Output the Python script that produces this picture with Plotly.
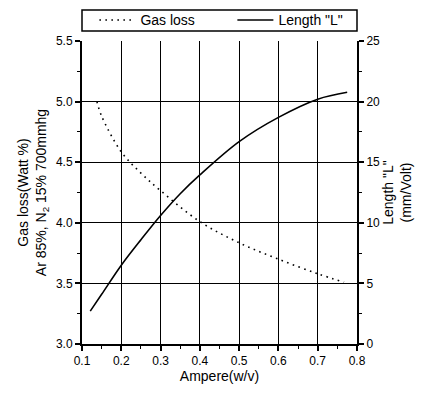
import plotly.graph_objects as go

# Data
gas_x = [0.138, 0.15, 0.2, 0.25, 0.3, 0.4, 0.5, 0.6, 0.7, 0.767]
gas_y = [5.0, 4.88, 4.585, 4.41, 4.265, 4.01, 3.835, 3.70, 3.58, 3.51]

len_x = [0.121, 0.15, 0.2, 0.25, 0.3, 0.35, 0.4, 0.5, 0.6, 0.7, 0.775]
len_y = [2.71, 4.1, 6.5, 8.6, 10.6, 12.4, 13.95, 16.7, 18.7, 20.2, 20.77]

x_ticks = [0.1, 0.2, 0.3, 0.4, 0.5, 0.6, 0.7, 0.8]
y1_ticks = [3.0, 3.5, 4.0, 4.5, 5.0, 5.5]
y2_ticks = [0, 5, 10, 15, 20, 25]

FONT = "Liberation Sans, Arial, sans-serif"

fig = go.Figure()
fig.add_trace(go.Scatter(
    x=gas_x, y=gas_y, mode="lines", name="Gas loss",
    line=dict(color="black", width=1.6, dash="1.6px,4.4px", shape="spline"),
    yaxis="y"))
fig.add_trace(go.Scatter(
    x=len_x, y=len_y, mode="lines", name='Length "L"',
    line=dict(color="black", width=1.6, shape="spline"),
    yaxis="y2"))

axis_common = dict(linecolor="black", linewidth=2, ticks="outside",
                   tickcolor="black", tickwidth=1.5, ticklen=5,
                   tickfont=dict(size=12, color="black", family=FONT),
                   zeroline=False)

fig.update_layout(
    width=430, height=394,
    margin=dict(l=74, r=81, t=33, b=58, autoexpand=False),
    paper_bgcolor="white", plot_bgcolor="white",
    font=dict(family=FONT, color="black"),
    showlegend=True,
    legend=dict(orientation="h", x=0.045, xanchor="left", y=1.068, yanchor="middle",
                bgcolor="rgba(0,0,0,0)", borderwidth=0,
                font=dict(size=14, color="black", family=FONT),
                itemwidth=36, entrywidth=87, tracegroupgap=0),
    shapes=[dict(type="rect", xref="paper", yref="paper",
                 x0=0.0, x1=1.0, y0=1.033, y1=1.102,
                 line=dict(color="black", width=1.5))],
    xaxis=dict(range=[0.1, 0.8], tickvals=x_ticks,
               ticktext=[f"{v:.1f}" for v in x_ticks],
               showgrid=True, gridcolor="black", gridwidth=1.4,
               minor=dict(dtick=0.05, ticklen=3, tickcolor="black", tickwidth=1.2, showgrid=False, ticks="outside"),
               title=dict(text="Ampere(w/v)", font=dict(size=14, family=FONT), standoff=2),
               **axis_common),
    xaxis2=dict(range=[0.1, 0.8], overlaying="x", side="top", matches="x",
                tickvals=x_ticks, showticklabels=False, showgrid=False,
                ticks="inside", ticklen=4, tickcolor="black", tickwidth=1.5,
                linecolor="black", linewidth=2, showline=True, zeroline=False,
                minor=dict(dtick=0.05, ticklen=3, tickcolor="black", ticks="inside")),
    yaxis=dict(range=[3.0, 5.5], tickvals=y1_ticks,
               ticktext=[f"{v:.1f}" for v in y1_ticks],
               showgrid=True, gridcolor="black", gridwidth=1.4,
               minor=dict(dtick=0.25, ticklen=3, tickcolor="black", tickwidth=1.2, showgrid=False, ticks="outside"),
               title=dict(text="Gas loss(Watt %)<br>Ar 85%, N<sub>2</sub> 15% 700mmhg",
                          font=dict(size=14, family=FONT), standoff=6),
               **axis_common),
    yaxis2=dict(range=[0, 25], tickvals=y2_ticks, overlaying="y", side="right",
                showgrid=False,
                minor=dict(dtick=2.5, ticklen=3, tickcolor="black", tickwidth=1.2, showgrid=False, ticks="outside"),
                title=dict(text='Length "L"<br>(mm/Volt)', font=dict(size=14, family=FONT), standoff=2),
                **axis_common),
)

fig.write_html("out.html")
